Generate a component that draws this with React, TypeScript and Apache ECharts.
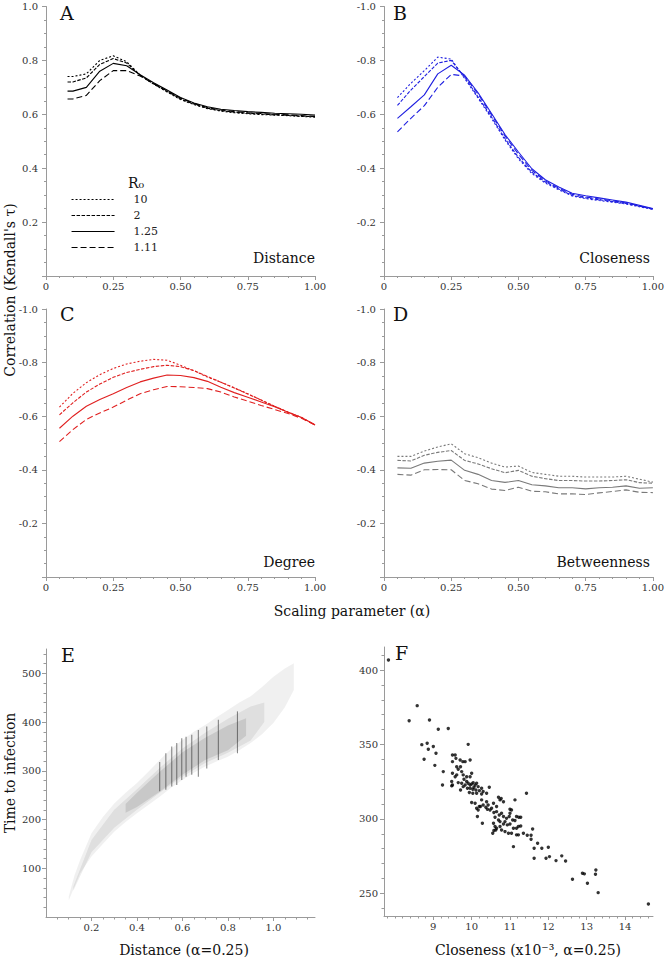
import React, { useEffect, useRef } from 'react';
import * as echarts from 'echarts';

// ---------------- data ----------------
const alpha = [0.05, 0.1, 0.15, 0.2, 0.25, 0.3, 0.35, 0.4, 0.45, 0.5, 0.55, 0.6, 0.65, 0.7, 0.75, 0.8, 0.85, 0.9, 0.95, 1.0];
const alphaDist = [0.08, 0.1, 0.15, 0.2, 0.25, 0.3, 0.35, 0.4, 0.45, 0.5, 0.55, 0.6, 0.65, 0.7, 0.75, 0.8, 0.85, 0.9, 0.95, 1.0];
const r0Labels = ['10', '2', '1.25', '1.11'];

// A: Distance
const distR10 = [0.74, 0.74, 0.75, 0.8, 0.817, 0.795, 0.745, 0.712, 0.683, 0.655, 0.636, 0.621, 0.612, 0.606, 0.602, 0.599, 0.597, 0.595, 0.592, 0.589];
const distR2 = [0.72, 0.72, 0.735, 0.785, 0.807, 0.79, 0.745, 0.713, 0.685, 0.657, 0.638, 0.623, 0.614, 0.608, 0.604, 0.601, 0.598, 0.596, 0.593, 0.591];
const distR125 = [0.686, 0.686, 0.7, 0.76, 0.789, 0.78, 0.747, 0.717, 0.69, 0.662, 0.642, 0.628, 0.619, 0.614, 0.61, 0.607, 0.604, 0.602, 0.6, 0.597];
const distR111 = [0.657, 0.657, 0.67, 0.725, 0.762, 0.762, 0.742, 0.714, 0.687, 0.66, 0.64, 0.625, 0.616, 0.61, 0.606, 0.603, 0.6, 0.598, 0.595, 0.592];

// B: Closeness
const closR10 = [-0.662, -0.715, -0.762, -0.812, -0.805, -0.733, -0.66, -0.585, -0.505, -0.435, -0.38, -0.345, -0.32, -0.297, -0.287, -0.28, -0.274, -0.267, -0.257, -0.247];
const closR2 = [-0.633, -0.69, -0.74, -0.79, -0.8, -0.738, -0.664, -0.59, -0.51, -0.44, -0.385, -0.349, -0.323, -0.299, -0.29, -0.283, -0.276, -0.269, -0.259, -0.248];
const closR125 = [-0.585, -0.628, -0.672, -0.75, -0.782, -0.745, -0.68, -0.603, -0.525, -0.46, -0.398, -0.357, -0.33, -0.307, -0.298, -0.29, -0.282, -0.274, -0.262, -0.25];
const closR111 = [-0.535, -0.585, -0.632, -0.7, -0.748, -0.742, -0.675, -0.598, -0.52, -0.452, -0.392, -0.353, -0.326, -0.303, -0.293, -0.286, -0.279, -0.271, -0.26, -0.249];

// C: Degree
const degR10 = [-0.634, -0.685, -0.725, -0.755, -0.778, -0.795, -0.805, -0.812, -0.809, -0.79, -0.77, -0.746, -0.727, -0.706, -0.684, -0.66, -0.637, -0.615, -0.595, -0.567];
const degR2 = [-0.605, -0.65, -0.69, -0.72, -0.745, -0.763, -0.775, -0.785, -0.79, -0.785, -0.77, -0.748, -0.727, -0.705, -0.683, -0.66, -0.637, -0.615, -0.595, -0.567];
const degR125 = [-0.555, -0.6, -0.637, -0.662, -0.684, -0.707, -0.728, -0.742, -0.754, -0.752, -0.744, -0.73, -0.708, -0.688, -0.671, -0.653, -0.635, -0.615, -0.595, -0.568];
const degR111 = [-0.505, -0.55, -0.588, -0.612, -0.634, -0.66, -0.684, -0.699, -0.711, -0.71, -0.707, -0.703, -0.69, -0.672, -0.656, -0.64, -0.625, -0.61, -0.592, -0.567];

// D: Betweenness
const betR10 = [-0.45, -0.45, -0.47, -0.485, -0.497, -0.46, -0.445, -0.425, -0.41, -0.414, -0.39, -0.383, -0.376, -0.376, -0.373, -0.373, -0.373, -0.376, -0.365, -0.354];
const betR2 = [-0.435, -0.433, -0.454, -0.465, -0.472, -0.435, -0.422, -0.404, -0.389, -0.398, -0.376, -0.367, -0.36, -0.36, -0.358, -0.358, -0.36, -0.363, -0.352, -0.35];
const betR125 = [-0.407, -0.406, -0.425, -0.432, -0.436, -0.398, -0.383, -0.36, -0.353, -0.36, -0.344, -0.34, -0.333, -0.333, -0.329, -0.333, -0.335, -0.34, -0.331, -0.333];
const betR111 = [-0.383, -0.38, -0.4, -0.401, -0.4, -0.36, -0.348, -0.328, -0.323, -0.335, -0.32, -0.318, -0.31, -0.31, -0.308, -0.314, -0.319, -0.325, -0.316, -0.315];

// E: distance vs time to infection (dense point cloud read as density envelopes + vertical streaks)
const cloudX = [0.1, 0.125, 0.15, 0.2, 0.25, 0.3, 0.35, 0.4, 0.45, 0.5, 0.55, 0.6, 0.65, 0.7, 0.75, 0.8, 0.85, 0.9, 0.95, 1.0, 1.05, 1.09];
const cloudUpper = [42, 85, 117, 172, 205, 233, 255, 275, 298, 322, 345, 363, 380, 394, 410, 425, 440, 453, 472, 493, 510, 521];
const cloudLower = [34, 62, 90, 124, 150, 175, 195, 213, 230, 247, 265, 281, 296, 309, 319, 329, 342, 357, 375, 398, 430, 466];
const midX = [0.12, 0.2, 0.3, 0.4, 0.5, 0.6, 0.7, 0.8, 0.9, 0.96];
const midUpper = [62, 158, 220, 262, 306, 346, 378, 407, 432, 440];
const midLower = [54, 133, 183, 220, 255, 288, 316, 337, 362, 400];
const coreX = [0.35, 0.4, 0.5, 0.6, 0.7, 0.8, 0.88];
const coreUpper = [232, 255, 298, 338, 368, 393, 408];
const coreLower = [214, 226, 257, 292, 322, 342, 372];
// [distance, low, high]
const streaks = [
  [0.5, 258, 318], [0.527, 261, 336], [0.553, 268, 350], [0.575, 271, 357], [0.597, 281, 367],
  [0.616, 288, 370], [0.641, 292, 374], [0.67, 288, 384], [0.707, 305, 391], [0.758, 322, 405], [0.842, 336, 422],
];

// F: closeness (x10^-3) vs time to infection
const closenessF = [
  7.83, 8.58, 8.37, 8.9, 9.13, 9.39, 8.7, 8.84, 8.87, 9.0, 9.07, 8.76, 9.04, 9.91, 9.26, 9.24, 9.48,
  9.5, 9.57, 9.59, 9.5, 9.7, 9.77, 9.83, 9.96, 9.61, 9.71, 9.65, 9.74, 9.5, 9.57, 9.48, 9.61, 9.78, 9.8, 9.87, 9.96, 10.0,
  9.74, 9.83, 9.87, 9.91, 9.96, 10.0, 10.04, 10.09, 10.13, 10.17, 9.96, 10.03, 10.06, 10.11, 9.65, 9.78, 9.89, 10.2, 10.26, 10.46, 9.5, 9.71,
  10.03, 10.13, 10.26, 10.3, 10.39, 9.94,
  10.0, 10.09, 10.26, 10.3, 10.2, 10.39, 10.43, 10.7, 10.74, 10.77, 10.57, 10.83, 10.65, 10.52, 11.0, 11.04, 11.13, 11.0,
  10.13, 10.17, 10.23, 10.37, 10.41, 10.48, 10.58, 10.65, 10.72, 10.78, 10.83, 10.91, 10.98, 10.28, 10.15, 10.61, 10.7, 10.74, 10.87, 11.07, 11.13, 11.17, 11.23, 11.28,
  10.57, 10.61, 10.65, 10.63, 10.58, 10.74, 10.78, 10.83, 10.87, 10.96, 11.04, 11.09, 11.17, 11.22, 11.28, 10.55, 11.17, 11.22, 11.35, 10.93, 11.0,
  11.45, 11.55, 11.59, 11.55, 11.63, 11.72, 11.83, 12.0, 11.63, 11.94, 12.03, 11.09, 11.43,
  12.2, 12.35, 12.45, 12.63, 12.89, 12.94, 13.23, 13.24, 13.02, 13.3, 14.61,
];
const timeF = [
  406.8, 376.1, 366.0, 366.5, 360.2, 360.7, 349.9, 350.8, 346.8, 348.6, 344.1, 340.1, 336.0, 350.1, 331.8, 322.8, 322.2,
  343.0, 343.0, 340.7, 338.5, 339.6, 338.5, 338.5, 339.6, 335.1, 335.1, 333.4, 331.8, 330.7, 328.4, 325.1, 329.6, 329.6, 326.6, 328.4, 328.4, 330.7,
  324.0, 322.8, 325.1, 324.0, 322.8, 323.5, 324.4, 322.8, 324.0, 321.7, 320.6, 319.9, 321.3, 319.5, 324.4, 321.7, 320.6, 319.0, 320.6, 321.3, 322.8, 319.5,
  317.2, 317.2, 316.8, 318.4, 317.2, 317.7,
  311.0, 310.5, 312.8, 309.4, 308.3, 311.6, 309.4, 314.6, 312.8, 313.7, 310.5, 311.6, 308.3, 307.2, 306.5, 306.0, 312.8, 303.8,
  307.2, 306.0, 308.3, 307.8, 306.5, 306.0, 304.3, 304.9, 302.7, 303.8, 301.6, 300.4, 301.6, 297.1, 301.6, 301.1, 299.3, 298.2, 298.2, 299.3, 298.9, 301.6, 301.1, 301.1,
  297.1, 294.9, 293.7, 292.6, 292.2, 294.9, 292.6, 296.6, 291.5, 290.4, 290.4, 293.7, 293.7, 294.9, 295.3, 290.4, 289.3, 289.3, 290.4, 296.0, 296.6,
  289.0, 289.0, 293.3, 286.3, 280.3, 283.7, 280.3, 281.0, 273.6, 273.6, 274.7, 281.4, 317.2,
  272.0, 275.2, 271.8, 259.5, 263.5, 263.1, 262.8, 265.7, 256.8, 250.5, 242.9,
];

// tick positions
const eXMajor = [0.2, 0.4, 0.6, 0.8, 1.0];
const eYMajor = [100, 200, 300, 400, 500];
const fXMajor = [9, 10, 11, 12, 13, 14];
const fYMajor = [250, 300, 350, 400];

function steps(a: number, b: number, s: number) {
  const out: number[] = [];
  const n = Math.round((b - a) / s);
  for (let i = 0; i <= n; i++) out.push(+(a + i * s).toFixed(4));
  return out;
}
const eXMinor = steps(0.05, 1.15, 0.05);
const eYMinor = steps(20, 540, 20);
const fXMinor = steps(7.8, 14.6, 0.2);
const fYMinor = steps(240, 410, 10);

// ---------------- styling ----------------
const FONT = 'DejaVu Serif';
const AX = '#9a9a9a';
const LBL = '#333';
const dashes: any[] = [[2, 2], [3.5, 1.5], 'solid', [6, 3]];

function lineXAxis(grid: number) {
  return {
    type: 'value', gridIndex: grid, min: 0, max: 1, interval: 0.25,
    axisLine: { show: true, onZero: false, lineStyle: { color: AX, width: 1 } },
    axisTick: { show: true, length: 4, lineStyle: { color: AX } },
    minorTick: { show: true, splitNumber: 5, length: 2, lineStyle: { color: AX } },
    splitLine: { show: false },
    axisLabel: { formatter: (v: number) => (v === 0 ? '0' : v.toFixed(2)), fontFamily: FONT, fontSize: 10, color: LBL, margin: 5 },
  };
}
function lineYAxis(grid: number, negative: boolean) {
  return {
    type: 'value', gridIndex: grid, min: negative ? -1 : 0, max: negative ? 0 : 1, interval: 0.2, inverse: negative,
    axisLine: { show: true, onZero: false, lineStyle: { color: AX, width: 1 } },
    axisTick: { show: true, length: 4, lineStyle: { color: AX } },
    minorTick: { show: true, splitNumber: 4, length: 2, lineStyle: { color: AX } },
    splitLine: { show: false },
    axisLabel: { formatter: (v: number) => (Math.abs(v) < 1e-9 ? '' : v.toFixed(1)), fontFamily: FONT, fontSize: 10, color: LBL, margin: 8 },
  };
}
function customAxis(kind: 'x' | 'y', grid: number, min: number, max: number, major: number[], fmt: (v: number) => string, margin: number) {
  return {
    type: 'value', gridIndex: grid, min, max, position: kind === 'x' ? 'bottom' : 'left',
    axisLine: { show: true, onZero: false, lineStyle: { color: AX, width: 1 } },
    axisTick: { show: true, length: 4, customValues: major, lineStyle: { color: AX } },
    splitLine: { show: false },
    axisLabel: { customValues: major, formatter: fmt, fontFamily: FONT, fontSize: 10, color: LBL, margin },
  };
}
function minorAxis(kind: 'x' | 'y', grid: number, min: number, max: number, minor: number[]) {
  return {
    type: 'value', gridIndex: grid, min, max, position: kind === 'x' ? 'bottom' : 'left', offset: 0,
    axisLine: { show: false, onZero: false },
    axisTick: { show: true, length: 2.5, customValues: minor, lineStyle: { color: AX } },
    splitLine: { show: false },
    axisLabel: { show: false },
  };
}

function panelSeries(grid: number, color: string, xs: number[], sets: number[][], names: string[]) {
  return sets.map((vals, k) => ({
    type: 'line', name: names[k], xAxisIndex: grid, yAxisIndex: grid,
    data: xs.map((a, i) => [a, vals[i]]),
    symbol: 'none', showSymbol: false, silent: true,
    lineStyle: { color, width: 1.1, type: dashes[k] },
    itemStyle: { color },
  }));
}

const E_X_MAX = 1.183;
const F_X = [7.714, 14.73];
const F_Y = [234.8, 415.5];

export default function App() {
  const ref = useRef<HTMLDivElement>(null);
  useEffect(() => {
    if (!ref.current) return;
    const chart = echarts.init(ref.current, undefined, { renderer: 'svg' });

    const grids = [
      { left: 46, top: 6.5, width: 269, height: 269.5 },
      { left: 384, top: 6.5, width: 269, height: 269.5 },
      { left: 46, top: 309, width: 269, height: 268 },
      { left: 384, top: 309, width: 269, height: 268 },
      { left: 46, top: 649, width: 269, height: 268 },
      { left: 384, top: 647, width: 269, height: 269 },
    ];

    const xAxis: any[] = [
      lineXAxis(0), lineXAxis(1), lineXAxis(2), lineXAxis(3),
      customAxis('x', 4, 0, E_X_MAX, eXMajor, (v) => v.toFixed(1), 5),
      customAxis('x', 5, F_X[0], F_X[1], fXMajor, (v) => String(Math.round(v)), 5),
      minorAxis('x', 4, 0, E_X_MAX, eXMinor),
      minorAxis('x', 5, F_X[0], F_X[1], fXMinor),
    ];
    const yAxis: any[] = [
      lineYAxis(0, false), lineYAxis(1, true), lineYAxis(2, true), lineYAxis(3, true),
      customAxis('y', 4, 0, 550, eYMajor, (v) => String(Math.round(v)), 5),
      customAxis('y', 5, F_Y[0], F_Y[1], fYMajor, (v) => String(Math.round(v)), 6),
      minorAxis('y', 4, 0, 550, eYMinor),
      minorAxis('y', 5, F_Y[0], F_Y[1], fYMinor),
    ];

    const bandSeries = (xs: number[], up: number[], lo: number[], fill: string) => ({
      type: 'custom', xAxisIndex: 4, yAxisIndex: 4, silent: true, data: [[xs[0], lo[0]]],
      renderItem: (_p: any, api: any) => {
        const top = xs.map((x, i) => api.coord([x, up[i]]));
        const bot = xs.map((x, i) => api.coord([x, lo[i]])).reverse();
        return { type: 'polygon', shape: { points: top.concat(bot) }, style: { fill } };
      },
    });

    const series: any[] = [
      ...panelSeries(0, '#000000', alphaDist, [distR10, distR2, distR125, distR111], r0Labels),
      ...panelSeries(1, '#1f1fe0', alpha, [closR10, closR2, closR125, closR111], r0Labels.map((s) => 'B ' + s)),
      ...panelSeries(2, '#e02020', alpha, [degR10, degR2, degR125, degR111], r0Labels.map((s) => 'C ' + s)),
      ...panelSeries(3, '#7a7a7a', alpha, [betR10, betR2, betR125, betR111], r0Labels.map((s) => 'D ' + s)),
      bandSeries(cloudX, cloudUpper, cloudLower, 'rgba(0,0,0,0.06)'),
      bandSeries(midX, midUpper, midLower, 'rgba(0,0,0,0.07)'),
      bandSeries(coreX, coreUpper, coreLower, 'rgba(0,0,0,0.1)'),
      {
        type: 'custom', xAxisIndex: 4, yAxisIndex: 4, silent: true, data: streaks,
        encode: { x: 0, y: [1, 2] },
        renderItem: (_p: any, api: any) => {
          const x = api.value(0);
          const p1 = api.coord([x, api.value(1)]);
          const p2 = api.coord([x, api.value(2)]);
          return { type: 'line', shape: { x1: p1[0], y1: p1[1], x2: p2[0], y2: p2[1] }, style: { stroke: 'rgba(40,40,40,0.55)', lineWidth: 1.1 } };
        },
      },
      {
        type: 'scatter', xAxisIndex: 5, yAxisIndex: 5, silent: true,
        data: closenessF.map((c, i) => [c, timeF[i]]),
        symbol: 'circle', symbolSize: 3.4, itemStyle: { color: '#000' },
      },
    ];

    const txt = (text: string, x: number, y: number, size: number, align = 'left', vAlign = 'top', rotation = 0) => ({
      type: 'text', x, y, rotation, silent: true,
      style: { text, fontFamily: FONT, fontSize: size, fill: '#111', align, verticalAlign: vAlign },
    });

    const graphic = [
      txt('A', 60, 3, 19), txt('B', 393, 3, 19), txt('C', 60, 304, 19), txt('D', 393, 304, 19),
      txt('E', 61, 645, 19), txt('F', 395, 643, 19),
      txt('Distance', 315, 258, 14, 'right', 'middle'),
      txt('Closeness', 650, 258, 14, 'right', 'middle'),
      txt('Degree', 315, 562, 14, 'right', 'middle'),
      txt('Betweenness', 650, 562, 14, 'right', 'middle'),
      txt('R₀', 128, 183, 14, 'left', 'middle'),
      txt("Correlation (Kendall's τ)", 10, 290, 14, 'center', 'middle', Math.PI / 2),
      txt('Scaling parameter (α)', 352, 611, 14, 'center', 'middle'),
      txt('Time to infection', 10, 773, 14, 'center', 'middle', Math.PI / 2),
      txt('Distance (α=0.25)', 184, 950, 14, 'center', 'middle'),
      txt('Closeness (x10⁻³, α=0.25)', 528, 950, 14, 'center', 'middle'),
    ];

    chart.setOption({
      animation: false,
      backgroundColor: '#ffffff',
      textStyle: { fontFamily: FONT },
      grid: grids,
      xAxis,
      yAxis,
      legend: {
        show: true, selectedMode: false, orient: 'vertical', left: 71, top: 194, padding: 0,
        data: r0Labels, itemWidth: 43, itemHeight: 12, itemGap: 5,
        itemStyle: { opacity: 0 },
        lineStyle: { width: 1.1 },
        textStyle: { fontFamily: FONT, fontSize: 11, color: '#222', padding: [0, 0, 0, 14] },
      },
      series,
      graphic,
    });
    return () => chart.dispose();
  }, []);
  return <div ref={ref} style={{ position: 'absolute', left: 0, top: 0, width: 667, height: 960 }} />;
}
